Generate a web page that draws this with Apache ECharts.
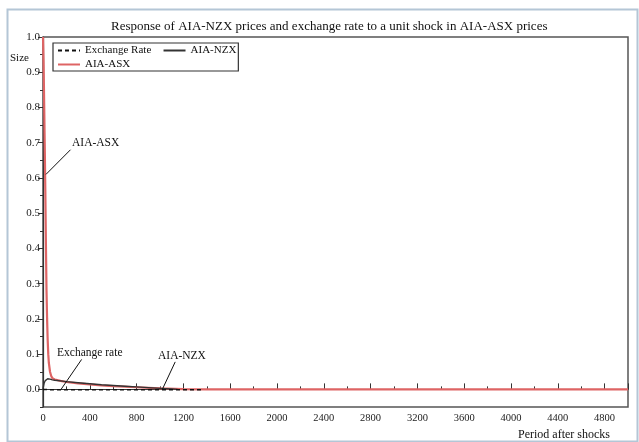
<!DOCTYPE html>
<html><head><meta charset="utf-8">
<script src="https://cdn.jsdelivr.net/npm/echarts@6/dist/echarts.min.js"></script>
<style>html,body{margin:0;padding:0;background:#fff}#c{width:639px;height:442px}</style>
</head><body><div id="c"></div>
<script>
var titleText = 'Response of AIA-NZX prices and exchange rate to a unit shock in AIA-ASX prices';
var seriesNames = ['Exchange Rate', 'AIA-NZX', 'AIA-ASX'];
var yTicks = [0,0.1,0.2,0.3,0.4,0.5,0.6,0.7,0.8,0.9,1.0];
var yMinor = [-0.05,0.05,0.15,0.25,0.35,0.45,0.55,0.65,0.75,0.85,0.95];

var asxX = [0,5,10,15,20,25,30,35,40,45,50,60,70,80,100,150,200,300,400,500,600,800,1000,1200,1400,2000,3000,4000,5000];
var asxY = [1.0,0.93,0.81,0.69,0.56,0.41,0.28,0.2,0.14,0.1,0.075,0.05,0.038,0.032,0.028,0.024,0.021,0.017,0.014,0.011,0.009,0.006,0.003,0.001,0,0,0,0,0];

var nzxX = [0,5,10,20,30,40,50,60,80,100,150,200,300,400,500,600,700,800,900,1000,1100,1150];
var nzxY = [0,0.01,0.018,0.025,0.028,0.03,0.03,0.029,0.027,0.026,0.024,0.022,0.019,0.016,0.013,0.011,0.009,0.007,0.005,0.003,0.001,0];

var exX = [0,50,100,200,400,600,800,1000,1200,1350];
var exY = [0,-0.001,-0.001,-0.001,-0.001,-0.001,-0.001,-0.001,-0.001,-0.001];

// annotations: text, text anchor (data), leader start (data), leader end (data)
var annText = ['AIA-ASX', 'Exchange rate', 'AIA-NZX'];
var annPos = [[248,0.70],[120,0.102],[983,0.094]];
var annFrom = [[235,0.68],[330,0.085],[1130,0.078]];
var annTo = [[25,0.61],[150,-0.002],[1020,0.0]];

function pairs(xs, ys){ return xs.map(function(x,i){return [x, ys[i]];}); }
var FONT = 'Liberation Serif';
var chart = echarts.init(document.getElementById('c'), null, {renderer:'canvas'});
var option = {
  animation:false,
  backgroundColor:'#fff',
  title:{ text:titleText, left:111, top:20, padding:0, textStyle:{fontFamily:FONT, fontSize:13, fontWeight:'normal', color:'#111'} },
  legend:{
    left:53, top:43, width:200, padding:[2,2,1,4], itemGap:3, itemWidth:22, itemHeight:12,
    borderColor:'#333', borderWidth:1.2, backgroundColor:'#fff',
    textStyle:{fontFamily:FONT, fontSize:11, color:'#111'},
    formatter:function(n){ return n === 'Exchange Rate' ? n + '   ' : n; },
    itemStyle:{opacity:0},
    data:seriesNames
  },
  grid:{ left:43, top:37, right:11, bottom:35, show:true, borderColor:'#555', borderWidth:1.5, backgroundColor:'transparent' },
  xAxis:{
    type:'value', min:0, max:5000, interval:400,
    axisLine:{show:true, lineStyle:{color:'#333', width:1.2}},
    axisTick:{show:true, inside:true, length:6, lineStyle:{color:'#333'}},
    minorTick:{show:true, splitNumber:2, length:3, lineStyle:{color:'#333'}},
    splitLine:{show:false},
    axisLabel:{fontFamily:FONT, fontSize:10.5, color:'#222', margin:6,
      formatter:function(v){ return v >= 5000 ? '' : String(v); }},
  },
  yAxis:[{
    type:'value', min:-0.05, max:1.0,
    axisLine:{show:true, lineStyle:{color:'#333', width:1.2}},
    axisTick:{show:true, inside:false, length:5, customValues:yTicks, lineStyle:{color:'#333'}},
    splitLine:{show:false},
    axisLabel:{fontFamily:FONT, fontSize:11, color:'#222', margin:3, customValues:yTicks,
      formatter:function(v){return v.toFixed(1);}}
  },{
    type:'value', min:-0.05, max:1.0, position:'left',
    axisLine:{show:false},
    axisTick:{show:true, inside:false, length:3, customValues:yMinor, lineStyle:{color:'#333'}},
    axisLabel:{show:false}, splitLine:{show:false}
  }],
  series:[
    { name:'Exchange Rate', type:'line', symbol:'none', data:pairs(exX, exY), z:4,
      lineStyle:{color:'#111', width:1.5, type:[4,3]}, itemStyle:{color:'#111'} },
    { name:'AIA-NZX', type:'line', symbol:'none', data:pairs(nzxX, nzxY), z:3,
      lineStyle:{color:'#333', width:1.4}, itemStyle:{color:'#333'} },
    { name:'AIA-ASX', type:'line', symbol:'none', data:pairs(asxX, asxY), z:2,
      lineStyle:{color:'#de6464', width:2.2}, itemStyle:{color:'#de6464'} }
  ]
};
chart.setOption(option);

var g = [
  { type:'rect', left:5, top:7, shape:{width:630, height:432}, style:{fill:'none', stroke:'#b4c6d6', lineWidth:2}, z:-1, silent:true },
  { type:'text', left:10, top:53, style:{text:'Size', font:'11px "Liberation Serif"', fill:'#111'} },
  { type:'text', right:29, top:429, style:{text:'Period after shocks', font:'12px "Liberation Serif"', fill:'#111'} }
];
for (var i=0;i<annText.length;i++){
  var p = chart.convertToPixel({gridIndex:0}, annPos[i]);
  var a = chart.convertToPixel({gridIndex:0}, annFrom[i]);
  var b = chart.convertToPixel({gridIndex:0}, annTo[i]);
  g.push({ type:'text', x:p[0], y:p[1], style:{text:annText[i], font:'11.5px "Liberation Serif"', fill:'#111', textVerticalAlign:'middle'}, z:10 });
  g.push({ type:'line', shape:{x1:a[0], y1:a[1], x2:b[0], y2:b[1]}, style:{stroke:'#111', lineWidth:1}, z:10 });
}
chart.setOption({graphic:g});
</script></body></html>
